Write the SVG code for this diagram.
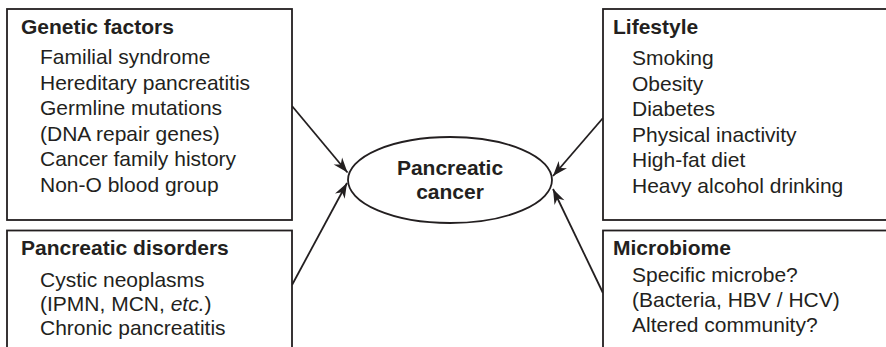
<svg xmlns="http://www.w3.org/2000/svg" width="886" height="347" viewBox="0 0 886 347">
<style>
.box{fill:#fff;stroke:#231f20;stroke-width:1.8}
.t{font-family:"Liberation Sans",Arial,sans-serif;font-size:21px;fill:#231f20}
.h{font-family:"Liberation Sans",Arial,sans-serif;font-size:21px;font-weight:bold;fill:#231f20}
.c{stroke:#231f20;stroke-width:1.8;fill:none;marker-end:url(#ah)}
</style>
<defs>
<marker id="ah" viewBox="-16 -7 17 14" refX="0" refY="0" markerWidth="17" markerHeight="14" markerUnits="userSpaceOnUse" orient="auto">
<path d="M0,0 L-15,-5.5 L-10.5,0 L-15,5.5 Z" fill="#231f20"/>
</marker>
</defs>
<rect width="886" height="347" fill="#fff"/>
<g id="connectors">
<line class="c" x1="292" y1="106" x2="347.5" y2="172.5"/>
<line class="c" x1="292" y1="285" x2="347" y2="183"/>
<line class="c" x1="603" y1="118" x2="553" y2="176"/>
<line class="c" x1="603" y1="293" x2="553" y2="189"/>
</g>
<g id="genetic">
<rect class="box" x="7" y="9" width="285" height="211"/>
<text class="h" x="21" y="34">Genetic factors</text>
<text class="t" x="40" y="64">Familial syndrome</text>
<text class="t" x="40" y="89.5">Hereditary pancreatitis</text>
<text class="t" x="40" y="115">Germline mutations</text>
<text class="t" x="40" y="140.5">(DNA repair genes)</text>
<text class="t" x="40" y="166">Cancer family history</text>
<text class="t" x="40" y="191.5">Non-O blood group</text>
</g>
<g id="disorders">
<rect class="box" x="7" y="230.5" width="285" height="130"/>
<text class="h" x="21" y="255">Pancreatic disorders</text>
<text class="t" x="40" y="287">Cystic neoplasms</text>
<text class="t" x="40" y="311">(IPMN, MCN, <tspan font-style="italic">etc.</tspan>)</text>
<text class="t" x="40" y="335">Chronic pancreatitis</text>
</g>
<g id="lifestyle">
<rect class="box" x="603" y="9" width="300" height="211"/>
<text class="h" x="613" y="34">Lifestyle</text>
<text class="t" x="632" y="65">Smoking</text>
<text class="t" x="632" y="90.5">Obesity</text>
<text class="t" x="632" y="116">Diabetes</text>
<text class="t" x="632" y="141.5">Physical inactivity</text>
<text class="t" x="632" y="167">High-fat diet</text>
<text class="t" x="632" y="192.5">Heavy alcohol drinking</text>
</g>
<g id="microbiome">
<rect class="box" x="603" y="230.5" width="300" height="130"/>
<text class="h" x="613" y="255">Microbiome</text>
<text class="t" x="632" y="282">Specific microbe?</text>
<text class="t" x="632" y="307">(Bacteria, HBV / HCV)</text>
<text class="t" x="632" y="331.5">Altered community?</text>
</g>
<g id="cancer">
<ellipse cx="450" cy="180" rx="102" ry="43" fill="#fff" stroke="#231f20" stroke-width="1.8"/>
<text class="h" x="450" y="175" text-anchor="middle">Pancreatic</text>
<text class="h" x="450" y="199" text-anchor="middle">cancer</text>
</g>
</svg>
